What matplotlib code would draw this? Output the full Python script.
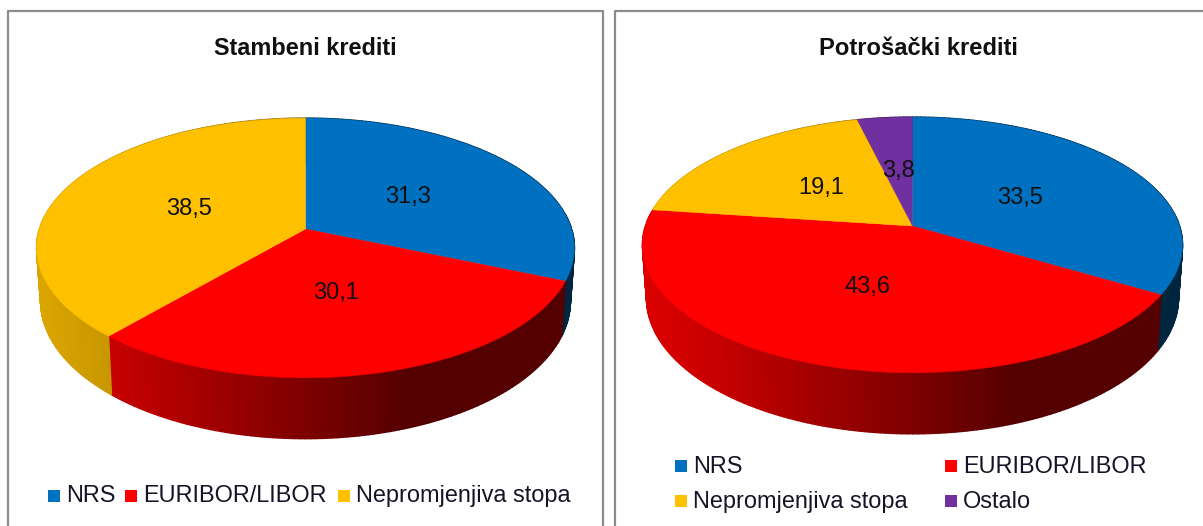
import numpy as np
import matplotlib
matplotlib.use("Agg")
import matplotlib.pyplot as plt
from matplotlib.collections import PolyCollection
from matplotlib.patches import Polygon, Rectangle
from matplotlib.lines import Line2D

plt.rcParams['font.family'] = ['Liberation Sans', 'DejaVu Sans']

# ---- data ----
title_left = "Stambeni krediti"
categories_left = ["NRS", "EURIBOR/LIBOR", "Nepromjenjiva stopa"]
values_left = [31.3, 30.1, 38.5]
title_right = "Potrošački krediti"
categories_right = ["NRS", "EURIBOR/LIBOR", "Nepromjenjiva stopa", "Ostalo"]
values_right = [33.5, 43.6, 19.1, 3.8]
colors = ["#0070C0", "#FF0000", "#FFC000", "#7030A0"]

fig = plt.figure(figsize=(12.03, 5.26), dpi=100)
ax = fig.add_axes([0, 0, 1, 1])
ax.set_xlim(0, 1203)
ax.set_ylim(526, 0)
ax.axis("off")


def shade(u):
    return np.interp(u, [-1.0, -0.73, 0.0, 0.4, 1.0], [0.86, 0.78, 0.49, 0.33, 0.33])


def draw_pie(values, cx, cy, a, b, k, depth):
    def proj(phi, r=1.0):
        w = 1 + k * r * np.cos(phi)
        return a * r * np.sin(phi) / w, -b * r * np.cos(phi) / w

    total = sum(values)
    edges = np.concatenate([[0], np.cumsum(values)]) / total * 2 * np.pi
    # side wall: thin slices, each overlapping its neighbour
    for i in range(len(values)):
        n = max(int((edges[i + 1] - edges[i]) / np.radians(1.0)), 2)
        ph = np.linspace(edges[i], edges[i + 1], n + 1)
        base = np.array(matplotlib.colors.to_rgb(colors[i]))
        polys, cols = [], []
        for p0, p1 in zip(ph[:-1], ph[1:]):
            x0, y0 = proj(p0)
            x1, y1 = proj(p1)
            d0 = depth / (1 + k * np.cos(p0))
            d1 = depth / (1 + k * np.cos(p1))
            polys.append([(cx + x0, cy + y0), (cx + x1, cy + y1),
                          (cx + x1 * 0.985, cy + y1 + d1), (cx + x0 * 0.985, cy + y0 + d0)])
            cols.append(tuple(base * shade((x0 + x1) / 2 / a)))
        ax.add_collection(PolyCollection(polys, facecolors=cols, edgecolors=cols,
                                         linewidths=1.1, zorder=2))
    # top surface
    for i in range(len(values)):
        ph = np.linspace(edges[i], edges[i + 1], 240)
        x, y = proj(ph)
        pts = np.column_stack([cx + x, cy + y])
        pts = np.vstack([[cx, cy], pts])
        ax.add_patch(Polygon(pts, closed=True, facecolor=colors[i], edgecolor=colors[i], lw=0.3, zorder=3))
    # value labels
    for i, v in enumerate(values):
        m = (edges[i] + edges[i + 1]) / 2
        x, y = proj(m, 0.48)
        ax.text(cx + x, cy + y - 2, f"{v:.1f}".replace(".", ","), ha="center", va="center_baseline",
                fontsize=17, color="#101010", zorder=5)


def legend_item(x, y, label, color):
    ax.add_patch(Rectangle((x, y - 6), 12, 12, facecolor=color, edgecolor="none", zorder=4))
    ax.text(x + 18, y + 6.8, label, ha="left", va="baseline", fontsize=16.95, color="#141428", zorder=5)


# frames
frame = "#8c8c8c"
ax.add_line(Line2D([8, 8, 603, 603], [526, 11, 11, 526], color=frame, lw=1.6, zorder=1))
ax.add_line(Line2D([615, 615, 1203], [526, 11, 11], color=frame, lw=1.6, zorder=1))

# left chart
ax.text(305, 55, title_left, ha="center", va="baseline", fontsize=16.9, fontweight="bold", color="#101010")
draw_pie(values_left, 305.5, 229, 266, 127, 0.146, 52)
for x, lab, col in zip([48, 125, 338], categories_left, colors):
    legend_item(x, 495.5, lab, col)

# right chart
ax.text(918.5, 55, title_right, ha="center", va="baseline", fontsize=17.1, fontweight="bold", color="#101010")
draw_pie(values_right, 912.5, 226, 267, 125, 0.148, 52)
for (x, y), lab, col in zip([(675, 466), (945, 466), (675, 501), (945, 501)], categories_right, colors):
    legend_item(x, y, lab, col)

fig.savefig("out.png", dpi=100, facecolor="white")
